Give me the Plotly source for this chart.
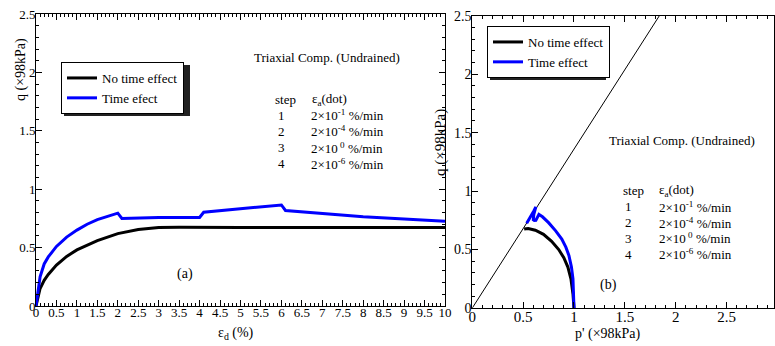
import plotly.graph_objects as go

W, H = 775, 346

# ---------------- data ----------------
# (a) q vs eps_d
eps_no = [0, 0.05, 0.1, 0.2, 0.3, 0.5, 0.75, 1.0, 1.5, 2.0, 2.5, 3.0, 3.5, 5.0, 7.5, 10.0]
q_no_a = [0, 0.08, 0.15, 0.22, 0.27, 0.35, 0.425, 0.48, 0.56, 0.62, 0.655, 0.672, 0.675, 0.673, 0.672, 0.672]

eps_te = [0, 0.05, 0.1, 0.2, 0.3, 0.5, 0.75, 1.0, 1.25, 1.5, 1.75, 2.0, 2.1, 2.5, 3.0, 3.5, 4.0,
          4.1, 5.0, 6.0, 6.1, 7.0, 8.0, 9.0, 10.0]
q_te_a = [0, 0.15, 0.25, 0.36, 0.42, 0.51, 0.59, 0.65, 0.70, 0.74, 0.77, 0.795, 0.75, 0.755, 0.758, 0.758, 0.758,
          0.803, 0.835, 0.865, 0.818, 0.79, 0.765, 0.745, 0.725]

# (b) q vs p'
p_no = [1.0, 0.99, 0.97, 0.94, 0.90, 0.85, 0.78, 0.70, 0.62, 0.55, 0.51]
q_no_b = [0.0, 0.12, 0.25, 0.35, 0.43, 0.50, 0.57, 0.63, 0.665, 0.68, 0.675]

p_te = [1.0, 0.998, 0.99, 0.975, 0.95, 0.92, 0.88, 0.82, 0.75, 0.69, 0.655,
        0.64, 0.625, 0.61, 0.60,
        0.605, 0.615, 0.625,
        0.605, 0.585, 0.565, 0.545, 0.535]
q_te_b = [0.0, 0.1, 0.25, 0.35, 0.45, 0.52, 0.59, 0.66, 0.73, 0.78, 0.80,
          0.775, 0.75, 0.748, 0.755,
          0.80, 0.83, 0.865,
          0.83, 0.80, 0.77, 0.74, 0.725]

csl_p = [0, 1.84]
csl_q = [0, 2.5]

steps = ["1", "2", "3", "4"]
rates = ["2×10<sup>-1</sup> %/min", "2×10<sup>-4</sup> %/min", "2×10<sup> 0</sup> %/min", "2×10<sup>-6</sup> %/min"]

FONT = "Liberation Serif"


def px(x):
    return x / W


def py(y):
    return 1 - y / H


fig = go.Figure()
fig.add_trace(go.Scatter(x=eps_no, y=q_no_a, mode="lines", line=dict(color="black", width=3),
                         name="No time effect", xaxis="x", yaxis="y", legend="legend"))
fig.add_trace(go.Scatter(x=eps_te, y=q_te_a, mode="lines", line=dict(color="#0000ff", width=3),
                         name="Time efect", xaxis="x", yaxis="y", legend="legend"))
fig.add_trace(go.Scatter(x=csl_p, y=csl_q, mode="lines", line=dict(color="black", width=1),
                         showlegend=False, xaxis="x2", yaxis="y2"))
fig.add_trace(go.Scatter(x=p_no, y=q_no_b, mode="lines", line=dict(color="black", width=3),
                         name="No time effect", xaxis="x2", yaxis="y2", legend="legend2"))
fig.add_trace(go.Scatter(x=p_te, y=q_te_b, mode="lines", line=dict(color="#0000ff", width=3),
                         name="Time effect", xaxis="x2", yaxis="y2", legend="legend2"))

common = dict(showline=True, linecolor="black", linewidth=1, mirror="allticks", ticks="inside",
              tickcolor="black", ticklen=6, showgrid=False, zeroline=False, automargin=False,
              tickfont=dict(family=FONT, size=13, color="black"))
minor = dict(ticks="inside", dtick=0.1, ticklen=3, tickcolor="black", showgrid=False)

LEG_FONT = dict(family=FONT, size=13, color="black")
y2_dom = [py(308), py(15.7)]

fig.update_layout(
    width=W, height=H, template="none",
    margin=dict(l=0, r=0, t=0, b=0),
    paper_bgcolor="white", plot_bgcolor="white",
    font=dict(family=FONT, color="black"),
    xaxis=dict(domain=[px(36), px(445)], range=[0, 10], dtick=0.5, tick0=0, anchor="y",
               minor=minor, ticklabelstandoff=-6, **common),
    yaxis=dict(domain=[py(306), py(14)], range=[0, 2.5], dtick=0.5, anchor="x",
               minor=minor, ticklabelstandoff=-3, **common),
    xaxis2=dict(domain=[px(472.3), px(774)], range=[0, 2.967], dtick=0.5, anchor="y2",
                minor=minor, ticklabelstandoff=-5,
                **{**common, "tickfont": dict(family=FONT, size=15, color="black")}),
    yaxis2=dict(domain=y2_dom, range=[0, 2.5], dtick=0.5, anchor="x2",
                minor=minor, ticklabelstandoff=-3,
                **{**common, "mirror": True,
                   "tickfont": dict(family=FONT, size=14, color="black")}),
    yaxis3=dict(overlaying="y2", side="right", anchor="x2", range=[0, 2.5], dtick=0.5,
                ticks="inside", ticklen=6, tickcolor="black", showticklabels=False,
                showline=False, showgrid=False, zeroline=False, automargin=False),
    showlegend=True,
    legend=dict(x=px(61), y=py(62), xanchor="left", yanchor="top", bgcolor="white",
                bordercolor="black", borderwidth=1, font=LEG_FONT,
                tracegroupgap=0, itemwidth=30),
    legend2=dict(x=px(487), y=py(26), xanchor="left", yanchor="top", bgcolor="white",
                 bordercolor="black", borderwidth=1, font=LEG_FONT,
                 tracegroupgap=0, itemwidth=30),
)

# legend shadows
for (x0, y0, x1, y1) in [(61, 62, 187, 113), (487, 26, 603, 77)]:
    fig.add_shape(type="rect", xref="paper", yref="paper", x0=px(x0 + 3), x1=px(x1 + 3),
                  y0=py(y1 + 3), y1=py(y0 + 3), fillcolor="#222", line=dict(width=0), layer="above")

ann = []


def add(text, x, y, size=13, xanchor="left", textangle=0):
    ann.append(dict(text=text, x=px(x), y=py(y), xref="paper", yref="paper", showarrow=False,
                    xanchor=xanchor, yanchor="middle", textangle=textangle,
                    font=dict(family=FONT, size=size, color="black")))


# axis titles
add("q (×98kPa)", 21, 70, size=14, xanchor="center", textangle=-90)
add("ε<sub>d</sub> (%)", 236, 333, size=14, xanchor="center")
add("q (×98kPa)", 440, 143, size=15, xanchor="center", textangle=-90)
add("p' (×98kPa)", 608, 334, size=14, xanchor="center")

# panel (a) texts
add("Triaxial Comp. (Undrained)", 252, 58)
add("step", 273, 100)
add("ε<sub>a</sub>(dot)", 310, 100)
for i, (s, r) in enumerate(zip(steps, rates)):
    yy = 115 + i * 16.3
    add(s, 281, yy, xanchor="center")
    add(r, 309, yy)
add("(a)", 185, 274, size=14, xanchor="center")

# panel (b) texts
add("Triaxial Comp. (Undrained)", 607, 140)
add("step", 621, 190)
add("ε<sub>a</sub>(dot)", 657, 190)
for i, (s, r) in enumerate(zip(steps, rates)):
    yy = 206.7 + i * 15.8
    add(s, 628, yy, xanchor="center")
    add(r, 657, yy)
add("(b)", 608, 285, size=14, xanchor="center")

fig.update_layout(annotations=ann)
fig.write_html("out.html", config={"displayModeBar": False},
               post_script="document.body.style.margin='0';document.body.style.overflow='hidden';")
